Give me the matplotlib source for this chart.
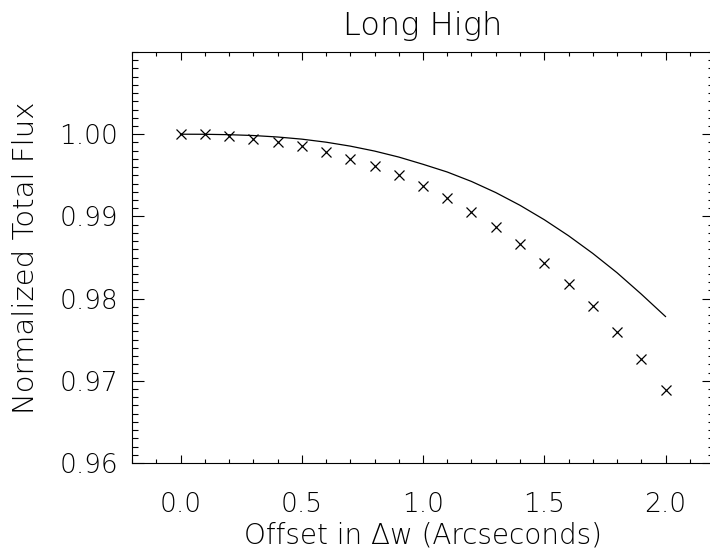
import numpy as np
import matplotlib.pyplot as plt
from matplotlib.ticker import MultipleLocator

# offsets (arcsec) and measured normalized flux (crosses)
offset = [0.0, 0.1, 0.2, 0.3, 0.4, 0.5, 0.6, 0.7, 0.8, 0.9, 1.0,
          1.1, 1.2, 1.3, 1.4, 1.5, 1.6, 1.7, 1.8, 1.9, 2.0]
flux_meas = [1.0000, 1.0000, 0.99976, 0.99946, 0.99906, 0.99857, 0.99780,
             0.99702, 0.99613, 0.99503, 0.99373, 0.99220, 0.99056, 0.98873,
             0.98662, 0.98434, 0.98183, 0.97906, 0.97593, 0.97260, 0.96890]

# model curve (solid line)
flux_model = [1.0000, 0.99999, 0.99994, 0.99984, 0.99966, 0.99940, 0.99903,
              0.99855, 0.99795, 0.99722, 0.99634, 0.99540, 0.99425, 0.99290,
              0.99135, 0.98960, 0.98765, 0.98550, 0.98315, 0.98055, 0.97782]

plt.rcParams['font.family'] = ['DejaVu Sans']
plt.rcParams['font.weight'] = 'light'
plt.rcParams['axes.labelweight'] = 'light'
plt.rcParams['axes.titleweight'] = 'light'

fig = plt.figure(figsize=(7.1, 5.52), dpi=100)
# axes box runs a little past the right edge of the image, like the original
ax = fig.add_axes([132/710, 89/552, 582/710, 411/552])

ax.plot(offset, flux_model, color='black', linewidth=0.9)
ax.plot(offset, flux_meas, linestyle='none', marker='x', color='black',
        markersize=7.5, markeredgewidth=0.9)

ax.set_xlim(-0.2, 2.2)
ax.set_ylim(0.96, 1.01)
ax.xaxis.set_minor_locator(MultipleLocator(0.1))
ax.yaxis.set_minor_locator(MultipleLocator(0.001))
ax.set_xticks([0.0, 0.5, 1.0, 1.5, 2.0])
ax.set_xticklabels(['0.0', '0.5', '1.0', '1.5', '2.0'])
ax.set_yticks([0.96, 0.97, 0.98, 0.99, 1.00])
ax.set_yticklabels(['0.96', '0.97', '0.98', '0.99', '1.00'])

for s in ax.spines.values():
    s.set_linewidth(0.8)

ax.tick_params(axis='x', which='major', direction='in', length=6, width=0.8,
               top=True, labelsize=19, pad=21)
ax.tick_params(axis='x', which='minor', direction='in', length=3, width=0.8, top=True)
ax.tick_params(axis='y', which='major', direction='in', length=8.5, width=0.8,
               right=True, labelsize=19, pad=10)
ax.tick_params(axis='y', which='minor', direction='in', length=4.5, width=0.8, right=True)

ax.set_xlabel('Offset in \u0394w (Arcseconds)', fontsize=20, labelpad=3)
ax.set_ylabel('Normalized Total Flux', fontsize=21, labelpad=14)
ax.set_title('Long High', fontsize=23, pad=12)

fig.savefig('out.png', dpi=100)
